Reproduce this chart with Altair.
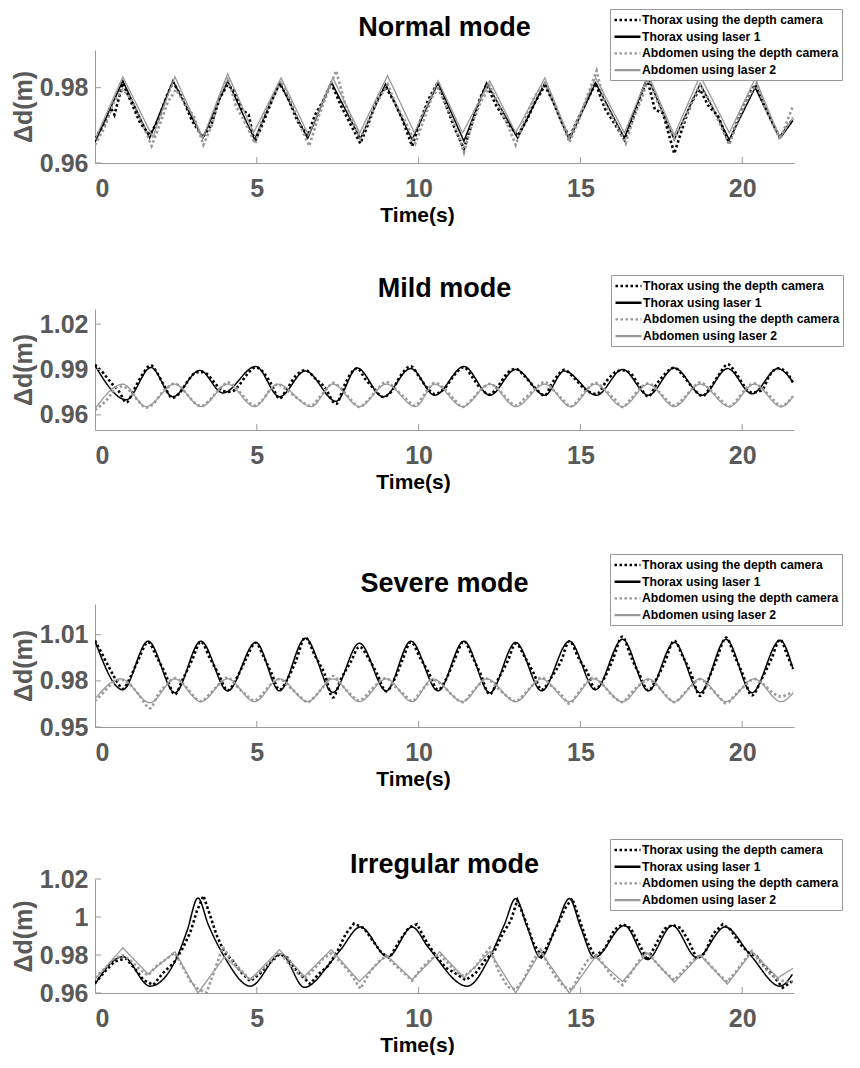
import altair as alt
import pandas as pd

FONT = "Liberation Sans"

SERIES = ["Thorax using the depth camera", "Thorax using laser 1",
          "Abdomen using the depth camera", "Abdomen using laser 2"]
COLORS = ["#000000", "#000000", "#999999", "#999999"]
DASHES = [[2.5, 2.5], [1, 0], [2.5, 2.5], [1, 0]]
WIDTHS = [2.6, 1.5, 2.6, 1.3]

TITLES = ["Normal mode", "Mild mode", "Severe mode", "Irregular mode"]
X_TICKS = [0, 5, 10, 15, 20]
X_DOMAIN = [0, 21.6]
Y_DOMAINS = [[0.96, 0.99], [0.95, 1.03], [0.95, 1.03], [0.96, 1.02]]
Y_TICKS = [[0.96, 0.98], [0.96, 0.99, 1.02], [0.95, 0.98, 1.01], [0.96, 0.98, 1.0, 1.02]]

# ---------------- Normal mode ----------------
NORMAL_THORAX_CAM = [(0.0, 0.9665), (0.3, 0.9705), (0.5, 0.9745), (0.6, 0.9728), (0.86, 0.9812), (1.1, 0.9765), (1.4, 0.9705), (1.69, 0.9675), (1.95, 0.9712), (2.2, 0.9775), (2.41, 0.9815), (2.7, 0.9772), (3.0, 0.9712), (3.33, 0.9668), (3.6, 0.9702), (3.85, 0.9772), (4.1, 0.9808), (4.3, 0.9792), (4.55, 0.9742), (4.75, 0.9728), (4.93, 0.9655), (5.2, 0.9708), (5.45, 0.9762), (5.7, 0.9812), (5.95, 0.9775), (6.25, 0.9712), (6.57, 0.9672), (6.8, 0.9728), (7.05, 0.9765), (7.3, 0.9812), (7.6, 0.9752), (7.9, 0.9702), (8.2, 0.9652), (8.45, 0.9705), (8.7, 0.9765), (8.98, 0.9802), (9.25, 0.9762), (9.5, 0.9715), (9.8, 0.9645), (10.05, 0.9712), (10.3, 0.9768), (10.6, 0.9815), (10.85, 0.9752), (11.1, 0.9695), (11.4, 0.9638), (11.65, 0.9705), (11.9, 0.9772), (12.1, 0.9808), (12.4, 0.9752), (12.7, 0.9712), (13.06, 0.9672), (13.35, 0.9715), (13.6, 0.9762), (13.9, 0.9805), (14.15, 0.9765), (14.4, 0.9712), (14.66, 0.9668), (14.95, 0.9722), (15.2, 0.9765), (15.47, 0.9812), (15.75, 0.9745), (16.05, 0.9705), (16.36, 0.9662), (16.6, 0.9712), (16.85, 0.9775), (17.07, 0.9822), (17.3, 0.9742), (17.55, 0.9732), (17.9, 0.9625), (18.2, 0.9705), (18.45, 0.9765), (18.7, 0.9795), (18.95, 0.9752), (19.25, 0.9725), (19.6, 0.9652), (19.85, 0.9712), (20.15, 0.9772), (20.4, 0.9808), (20.65, 0.9758), (20.9, 0.9712), (21.17, 0.9668), (21.57, 0.9718)]
NORMAL_THORAX_LASER = [(0, 0.9655), (0.86, 0.9818), (1.69, 0.9666), (2.41, 0.9818), (3.33, 0.9666), (4.1, 0.9818), (4.93, 0.9662), (5.7, 0.9815), (6.57, 0.9665), (7.3, 0.9815), (8.2, 0.9665), (8.98, 0.981), (9.8, 0.9662), (10.6, 0.9813), (11.4, 0.9658), (12.1, 0.9813), (13.06, 0.9666), (13.9, 0.9813), (14.66, 0.9662), (15.47, 0.9813), (16.36, 0.9666), (17.07, 0.983), (17.9, 0.9662), (18.7, 0.981), (19.6, 0.9662), (20.4, 0.980), (21.17, 0.9666), (21.57, 0.9713)]
NORMAL_ABD_CAM = [(0.0, 0.9648), (0.3, 0.9695), (0.6, 0.9765), (0.86, 0.9795), (1.1, 0.9772), (1.4, 0.9718), (1.75, 0.9645), (2.0, 0.9702), (2.25, 0.9762), (2.5, 0.9795), (2.75, 0.9762), (3.05, 0.9725), (3.35, 0.9648), (3.6, 0.9698), (3.85, 0.9778), (4.1, 0.9828), (4.35, 0.9752), (4.65, 0.9705), (4.95, 0.9652), (5.2, 0.9725), (5.5, 0.9772), (5.75, 0.9818), (6.0, 0.9772), (6.3, 0.9708), (6.62, 0.9645), (6.9, 0.9722), (7.15, 0.9778), (7.45, 0.9845), (7.7, 0.9765), (7.95, 0.9712), (8.2, 0.9665), (8.5, 0.9722), (8.75, 0.9768), (9.05, 0.9808), (9.3, 0.9755), (9.6, 0.9708), (9.9, 0.9652), (10.15, 0.9712), (10.4, 0.9772), (10.6, 0.9798), (10.85, 0.9752), (11.1, 0.9705), (11.4, 0.9628), (11.65, 0.9705), (11.9, 0.9758), (12.2, 0.9805), (12.45, 0.9758), (12.7, 0.9712), (13.0, 0.9648), (13.3, 0.9722), (13.6, 0.9778), (13.9, 0.9812), (14.15, 0.9765), (14.4, 0.9712), (14.66, 0.9655), (14.95, 0.9712), (15.2, 0.9775), (15.5, 0.9845), (15.75, 0.9758), (16.05, 0.9712), (16.4, 0.9652), (16.65, 0.9722), (16.9, 0.9772), (17.1, 0.9828), (17.35, 0.9768), (17.6, 0.9722), (17.9, 0.9665), (18.2, 0.9712), (18.45, 0.9765), (18.7, 0.9808), (18.95, 0.9772), (19.25, 0.9715), (19.6, 0.9648), (19.85, 0.9712), (20.15, 0.9768), (20.45, 0.9812), (20.7, 0.9748), (20.95, 0.9702), (21.17, 0.9662), (21.57, 0.9752)]
NORMAL_ABD_LASER = [(0, 0.9662), (0.86, 0.9829), (1.79, 0.9668), (2.0, 0.9722), (2.47, 0.9829), (3.33, 0.9666), (4.1, 0.9837), (4.9, 0.968), (5.75, 0.9826), (6.6, 0.9674), (7.35, 0.9826), (8.18, 0.968), (9.04, 0.9832), (9.87, 0.968), (10.6, 0.9818), (11.36, 0.968), (12.2, 0.9818), (13.0, 0.968), (13.9, 0.9826), (14.66, 0.9666), (15.47, 0.9826), (16.36, 0.968), (17.1, 0.9834), (17.9, 0.9674), (18.7, 0.9832), (19.6, 0.968), (20.4, 0.9824), (21.17, 0.9666), (21.57, 0.9721)]

# ---------------- Mild mode ----------------
MILD_THORAX_CAM = [(0.0, 0.9932), (0.25, 0.9878), (0.5, 0.9812), (0.75, 0.9752), (0.97, 0.9682), (1.2, 0.9765), (1.45, 0.9862), (1.73, 0.9928), (1.9, 0.9885), (2.1, 0.9808), (2.4, 0.9712), (2.6, 0.9742), (2.85, 0.9818), (3.05, 0.9872), (3.24, 0.9885), (3.45, 0.9872), (3.7, 0.9812), (3.95, 0.9758), (4.2, 0.9752), (4.45, 0.9795), (4.7, 0.9868), (4.97, 0.9915), (5.2, 0.9882), (5.45, 0.9802), (5.7, 0.9708), (5.95, 0.9778), (6.2, 0.9858), (6.5, 0.9895), (6.8, 0.9842), (7.1, 0.9782), (7.45, 0.9672), (7.7, 0.9792), (7.9, 0.9872), (8.1, 0.9908), (8.35, 0.9838), (8.6, 0.9778), (8.9, 0.9718), (9.15, 0.9752), (9.45, 0.9862), (9.76, 0.9922), (10.0, 0.9858), (10.25, 0.9782), (10.5, 0.9738), (10.8, 0.9775), (11.1, 0.9862), (11.4, 0.9915), (11.65, 0.9852), (11.9, 0.9778), (12.2, 0.9735), (12.45, 0.9788), (12.75, 0.9878), (13.0, 0.9905), (13.25, 0.9862), (13.6, 0.9778), (13.9, 0.9728), (14.1, 0.9802), (14.3, 0.9862), (14.5, 0.9898), (14.8, 0.9845), (15.15, 0.9768), (15.5, 0.9738), (15.8, 0.9822), (16.05, 0.9878), (16.3, 0.9895), (16.55, 0.9875), (16.8, 0.9798), (17.1, 0.9722), (17.35, 0.9802), (17.6, 0.9868), (17.9, 0.9912), (18.15, 0.9865), (18.45, 0.9785), (18.77, 0.9725), (19.0, 0.9775), (19.3, 0.9872), (19.55, 0.9935), (19.8, 0.9878), (20.05, 0.9795), (20.3, 0.9748), (20.6, 0.9762), (20.85, 0.9862), (21.1, 0.9908), (21.35, 0.9885), (21.57, 0.9812)]
MILD_THORAX_LASER = [(0, 0.9926), (0.97, 0.970), (1.73, 0.9913), (2.4, 0.972), (3.24, 0.9894), (3.95, 0.9745), (4.97, 0.992), (5.7, 0.972), (6.5, 0.989), (7.45, 0.969), (8.1, 0.991), (8.9, 0.972), (9.76, 0.9906), (10.5, 0.973), (11.4, 0.992), (12.2, 0.973), (13.0, 0.990), (13.9, 0.973), (14.5, 0.989), (15.5, 0.973), (16.3, 0.990), (17.1, 0.973), (17.9, 0.991), (18.77, 0.973), (19.55, 0.9906), (20.3, 0.974), (21.1, 0.9906), (21.57, 0.9816)]
MILD_ABD_CAM = [(0.0, 0.9632), (0.2, 0.9665), (0.45, 0.9722), (0.65, 0.9782), (0.86, 0.9788), (1.05, 0.9762), (1.3, 0.9702), (1.58, 0.9648), (1.8, 0.9672), (2.05, 0.9742), (2.25, 0.9782), (2.46, 0.9808), (2.65, 0.9782), (2.9, 0.9722), (3.1, 0.9675), (3.28, 0.9658), (3.5, 0.9688), (3.75, 0.9748), (3.95, 0.9792), (4.1, 0.9815), (4.35, 0.9782), (4.6, 0.9718), (4.93, 0.9662), (5.15, 0.9692), (5.4, 0.9762), (5.65, 0.9802), (5.95, 0.9762), (6.3, 0.9702), (6.68, 0.9658), (6.9, 0.9708), (7.15, 0.9768), (7.35, 0.9812), (7.6, 0.9775), (7.9, 0.9702), (8.17, 0.9652), (8.4, 0.9688), (8.7, 0.9762), (9.0, 0.9818), (9.3, 0.9768), (9.6, 0.9708), (9.9, 0.9662), (10.1, 0.9712), (10.3, 0.9772), (10.5, 0.9812), (10.8, 0.9772), (11.1, 0.9702), (11.36, 0.9652), (11.65, 0.9702), (11.95, 0.9772), (12.2, 0.9805), (12.5, 0.9762), (12.75, 0.9702), (13.0, 0.9662), (13.3, 0.9712), (13.6, 0.9772), (13.9, 0.9818), (14.15, 0.9768), (14.45, 0.9702), (14.7, 0.9655), (14.95, 0.9702), (15.2, 0.9768), (15.46, 0.9812), (15.75, 0.9768), (16.05, 0.9705), (16.3, 0.9652), (16.55, 0.9702), (16.85, 0.9778), (17.1, 0.9808), (17.4, 0.9758), (17.65, 0.9702), (17.9, 0.9662), (18.2, 0.9712), (18.45, 0.9772), (18.7, 0.9815), (19.0, 0.9768), (19.3, 0.9708), (19.6, 0.9655), (19.85, 0.9702), (20.1, 0.9772), (20.37, 0.9808), (20.65, 0.9768), (20.95, 0.9702), (21.2, 0.9658), (21.57, 0.9725)]
MILD_ABD_LASER = [(0, 0.964), (0.86, 0.9803), (1.58, 0.9655), (2.46, 0.9803), (3.28, 0.9655), (4.1, 0.9803), (4.93, 0.9655), (5.65, 0.9803), (6.68, 0.9655), (7.35, 0.9803), (8.17, 0.9655), (9.0, 0.9803), (9.9, 0.9655), (10.5, 0.9803), (11.36, 0.9655), (12.2, 0.9803), (13.0, 0.9655), (13.9, 0.9803), (14.7, 0.9655), (15.46, 0.9803), (16.3, 0.9655), (17.1, 0.9803), (17.9, 0.9655), (18.7, 0.9803), (19.6, 0.9655), (20.37, 0.9803), (21.2, 0.9655), (21.57, 0.972)]

# ---------------- Severe mode ----------------
SEVERE_THORAX_CAM = [(0.0, 1.0062), (0.25, 0.9962), (0.5, 0.9862), (0.7, 0.9788), (0.86, 0.9748), (1.1, 0.9828), (1.35, 0.9942), (1.64, 1.0052), (1.9, 0.9958), (2.15, 0.9858), (2.47, 0.9712), (2.7, 0.9805), (3.0, 0.9935), (3.27, 1.0055), (3.55, 0.9948), (3.8, 0.9852), (4.1, 0.9738), (4.35, 0.9808), (4.65, 0.9935), (4.97, 1.0048), (5.2, 0.9962), (5.45, 0.9852), (5.7, 0.9742), (5.95, 0.9812), (6.2, 0.9925), (6.5, 1.0082), (6.8, 0.9962), (7.1, 0.9842), (7.35, 0.9692), (7.6, 0.9812), (7.9, 0.9922), (8.17, 1.0022), (8.45, 0.9948), (8.7, 0.9852), (9.0, 0.9732), (9.25, 0.9808), (9.5, 0.9935), (9.76, 1.0052), (10.05, 0.9948), (10.3, 0.9858), (10.6, 0.9742), (10.85, 0.9812), (11.1, 0.9932), (11.4, 1.0058), (11.65, 0.9962), (11.9, 0.9852), (12.2, 0.9712), (12.45, 0.9808), (12.75, 0.9928), (13.0, 1.0042), (13.3, 0.9948), (13.55, 0.9852), (13.8, 0.9742), (14.1, 0.9822), (14.4, 0.9928), (14.66, 1.0058), (14.95, 0.9945), (15.2, 0.9862), (15.46, 0.9748), (15.75, 0.9822), (16.0, 0.9938), (16.3, 1.0088), (16.55, 0.9962), (16.8, 0.9852), (17.1, 0.9738), (17.35, 0.9812), (17.6, 0.9918), (17.9, 1.0062), (18.15, 0.9965), (18.4, 0.9858), (18.7, 0.9702), (18.95, 0.9808), (19.2, 0.9935), (19.5, 1.0082), (19.75, 0.9968), (20.0, 0.9852), (20.3, 0.9705), (20.6, 0.9812), (20.9, 0.9942), (21.17, 1.0068), (21.4, 0.9962), (21.57, 0.9878)]
SEVERE_THORAX_LASER = [(0, 1.0058), (0.86, 0.9742), (1.64, 1.0058), (2.47, 0.9723), (3.27, 1.0058), (4.1, 0.9735), (4.97, 1.005), (5.7, 0.9735), (6.5, 1.0077), (7.35, 0.9725), (8.17, 1.0045), (9.0, 0.9735), (9.76, 1.0058), (10.6, 0.9735), (11.4, 1.0058), (12.2, 0.9723), (13.0, 1.005), (13.8, 0.9735), (14.66, 1.0058), (15.46, 0.9742), (16.3, 1.007), (17.1, 0.9735), (17.9, 1.005), (18.7, 0.9723), (19.5, 1.007), (20.3, 0.9723), (21.17, 1.0064), (21.57, 0.9877)]
SEVERE_ABD_CAM = [(0.0, 0.9668), (0.25, 0.9722), (0.5, 0.9778), (0.8, 0.9808), (1.05, 0.9782), (1.35, 0.9712), (1.7, 0.9622), (1.95, 0.9712), (2.2, 0.9772), (2.47, 0.9818), (2.75, 0.9775), (3.0, 0.9712), (3.27, 0.9668), (3.55, 0.9715), (3.8, 0.9772), (4.1, 0.9822), (4.35, 0.9772), (4.65, 0.9712), (4.93, 0.9672), (5.2, 0.9722), (5.45, 0.9782), (5.7, 0.9812), (6.0, 0.9762), (6.3, 0.9705), (6.57, 0.9662), (6.85, 0.9712), (7.1, 0.9772), (7.35, 0.9832), (7.65, 0.9768), (7.9, 0.9712), (8.17, 0.9672), (8.45, 0.9722), (8.7, 0.9778), (9.0, 0.9818), (9.25, 0.9768), (9.55, 0.9712), (9.8, 0.9668), (10.05, 0.9725), (10.25, 0.9775), (10.43, 0.9808), (10.75, 0.9768), (11.05, 0.9705), (11.36, 0.9662), (11.6, 0.9712), (11.85, 0.9772), (12.1, 0.9815), (12.4, 0.9762), (12.7, 0.9705), (13.0, 0.9668), (13.3, 0.9722), (13.55, 0.9778), (13.8, 0.9822), (14.1, 0.9768), (14.4, 0.9712), (14.66, 0.9652), (14.9, 0.9712), (15.15, 0.9778), (15.4, 0.9822), (15.7, 0.9772), (16.0, 0.9702), (16.3, 0.9662), (16.55, 0.9718), (16.8, 0.9768), (17.1, 0.9808), (17.4, 0.9762), (17.65, 0.9705), (17.9, 0.9662), (18.2, 0.9718), (18.45, 0.9772), (18.7, 0.9812), (18.95, 0.9768), (19.25, 0.9705), (19.5, 0.9655), (19.8, 0.9712), (20.1, 0.9772), (20.37, 0.9812), (20.65, 0.9778), (20.95, 0.9722), (21.2, 0.9698), (21.4, 0.9712), (21.57, 0.9728)]
SEVERE_ABD_LASER = [(0, 0.9684), (0.8, 0.9813), (1.7, 0.9658), (2.47, 0.9813), (3.27, 0.9665), (4.1, 0.9813), (4.93, 0.9665), (5.7, 0.9813), (6.57, 0.9665), (7.35, 0.9813), (8.17, 0.9665), (9.0, 0.9813), (9.8, 0.9665), (10.43, 0.9813), (11.36, 0.9665), (12.1, 0.9813), (13.0, 0.9665), (13.8, 0.9813), (14.66, 0.9665), (15.4, 0.9813), (16.3, 0.9665), (17.1, 0.9813), (17.9, 0.9665), (18.7, 0.9813), (19.5, 0.9665), (20.37, 0.9813), (21.2, 0.9665), (21.57, 0.972)]

# ---------------- Irregular mode ----------------
IRREG_THORAX_CAM = [(0.0, 0.9652), (0.3, 0.9712), (0.6, 0.9765), (0.95, 0.9782), (1.2, 0.9735), (1.5, 0.9668), (1.8, 0.9642), (2.1, 0.9705), (2.45, 0.9762), (2.7, 0.9832), (2.95, 0.9922), (3.15, 1.0032), (3.35, 1.0112), (3.55, 1.0012), (3.75, 0.9908), (4.0, 0.9812), (4.25, 0.9772), (4.5, 0.9712), (4.8, 0.9662), (5.1, 0.9702), (5.4, 0.9758), (5.7, 0.9805), (5.95, 0.9785), (6.15, 0.9732), (6.4, 0.9688), (6.65, 0.9648), (6.9, 0.9698), (7.2, 0.9742), (7.5, 0.9822), (7.75, 0.9912), (8.0, 0.9965), (8.3, 0.9942), (8.6, 0.9872), (8.85, 0.9812), (9.1, 0.9785), (9.4, 0.9872), (9.7, 0.9945), (9.95, 0.9962), (10.25, 0.9868), (10.55, 0.9792), (10.85, 0.9732), (11.15, 0.9702), (11.45, 0.9668), (11.75, 0.9702), (12.05, 0.9772), (12.35, 0.9822), (12.6, 0.9912), (12.85, 0.9982), (13.05, 1.0088), (13.3, 0.9982), (13.55, 0.9862), (13.8, 0.9792), (14.05, 0.9872), (14.3, 0.9962), (14.55, 1.0052), (14.75, 1.0098), (15.0, 0.9972), (15.2, 0.9872), (15.45, 0.9792), (15.75, 0.9832), (16.05, 0.9932), (16.3, 0.9962), (16.55, 0.9942), (16.8, 0.9862), (17.07, 0.9772), (17.35, 0.9862), (17.6, 0.9938), (17.85, 0.9958), (18.1, 0.9942), (18.35, 0.9872), (18.6, 0.9778), (18.85, 0.9812), (19.1, 0.9912), (19.4, 0.9962), (19.65, 0.9932), (19.9, 0.9862), (20.2, 0.9812), (20.45, 0.9792), (20.75, 0.9728), (21.0, 0.9682), (21.25, 0.9628), (21.55, 0.9662)]
IRREG_THORAX_LASER = [(0, 0.9647), (0.86, 0.9791), (1.7, 0.9636), (2.47, 0.9766), (2.85, 0.993), (3.18, 1.0100), (3.5, 0.996), (4.0, 0.9790), (4.8, 0.9636), (5.75, 0.9805), (6.47, 0.9630), (7.3, 0.9766), (7.6, 0.9830), (8.2, 0.9947), (9.05, 0.9790), (9.8, 0.9947), (10.3, 0.9840), (11.5, 0.9636), (12.2, 0.9790), (12.65, 0.996), (13.0, 1.0097), (13.35, 0.995), (13.77, 0.9786), (14.25, 0.995), (14.66, 1.0097), (15.0, 0.995), (15.43, 0.9786), (16.36, 0.9955), (17.07, 0.9776), (17.84, 0.9955), (18.6, 0.9786), (19.47, 0.9947), (20.25, 0.9800), (21.17, 0.9636), (21.55, 0.9698)]
IRREG_ABD_CAM = [(0.0, 0.9682), (0.3, 0.9728), (0.6, 0.9782), (0.86, 0.9798), (1.1, 0.9772), (1.4, 0.9722), (1.64, 0.9692), (1.9, 0.9742), (2.2, 0.9778), (2.45, 0.9812), (2.7, 0.9742), (2.95, 0.9662), (3.2, 0.9618), (3.45, 0.9602), (3.7, 0.9722), (3.95, 0.9842), (4.2, 0.9778), (4.5, 0.9722), (4.8, 0.9668), (5.1, 0.9712), (5.4, 0.9758), (5.7, 0.9815), (5.95, 0.9762), (6.2, 0.9712), (6.5, 0.9678), (6.8, 0.9732), (7.05, 0.9782), (7.3, 0.9808), (7.6, 0.9762), (7.9, 0.9702), (8.2, 0.9622), (8.5, 0.9712), (8.75, 0.9762), (9.0, 0.9795), (9.3, 0.9742), (9.55, 0.9705), (9.8, 0.9665), (10.05, 0.9722), (10.35, 0.9775), (10.65, 0.9805), (10.9, 0.9758), (11.15, 0.9712), (11.4, 0.9688), (11.7, 0.9728), (11.95, 0.9782), (12.2, 0.9838), (12.45, 0.9722), (12.75, 0.9632), (13.0, 0.9618), (13.25, 0.9672), (13.5, 0.9762), (13.77, 0.9828), (14.0, 0.9752), (14.25, 0.9682), (14.5, 0.9632), (14.75, 0.9618), (15.0, 0.9712), (15.25, 0.9778), (15.5, 0.9798), (15.75, 0.9742), (16.0, 0.9682), (16.3, 0.9642), (16.55, 0.9702), (16.8, 0.9768), (17.07, 0.9818), (17.35, 0.9758), (17.6, 0.9712), (17.9, 0.9668), (18.2, 0.9722), (18.45, 0.9768), (18.7, 0.9802), (18.95, 0.9758), (19.25, 0.9702), (19.54, 0.9658), (19.8, 0.9712), (20.05, 0.9768), (20.3, 0.9822), (20.55, 0.9762), (20.85, 0.9702), (21.1, 0.9672), (21.35, 0.9658), (21.57, 0.9662)]
IRREG_ABD_LASER = [(0, 0.9672), (0.86, 0.9838), (1.64, 0.970), (2.47, 0.9817), (3.18, 0.960), (4.0, 0.979), (4.8, 0.967), (5.7, 0.9828), (6.47, 0.9688), (7.3, 0.9828), (8.17, 0.966), (9.0, 0.980), (9.8, 0.967), (10.65, 0.9817), (11.4, 0.968), (12.2, 0.9817), (13.0, 0.960), (13.77, 0.9817), (14.66, 0.960), (15.46, 0.979), (16.3, 0.966), (17.07, 0.981), (17.9, 0.9657), (18.7, 0.980), (19.54, 0.9647), (20.3, 0.9817), (21.1, 0.968), (21.57, 0.973)]

PANEL_DATA = [
    [NORMAL_THORAX_CAM, NORMAL_THORAX_LASER, NORMAL_ABD_CAM, NORMAL_ABD_LASER],
    [MILD_THORAX_CAM, MILD_THORAX_LASER, MILD_ABD_CAM, MILD_ABD_LASER],
    [SEVERE_THORAX_CAM, SEVERE_THORAX_LASER, SEVERE_ABD_CAM, SEVERE_ABD_LASER],
    [IRREG_THORAX_CAM, IRREG_THORAX_LASER, IRREG_ABD_CAM, IRREG_ABD_LASER],
]
INTERPS = [
    ["linear", "linear", "linear", "linear"],
    ["monotone", "monotone", "monotone", "monotone"],
    ["monotone", "monotone", "monotone", "monotone"],
    ["linear", "monotone", "linear", "linear"],
]

PW = 699
PH = [113, 121, 123, 114]
LEG_XY = [(515, -41), (516, -34), (515, -50), (515, -40)]
TITLE_Y = [-14, -12, -12, -6]
XTITLE_X = [322, 318, 318, 322]
AXIS_GRAY = "#9a9a9a"


def panel(i):
    xs = alt.Scale(domain=X_DOMAIN, nice=False, zero=False)
    ys = alt.Scale(domain=Y_DOMAINS[i], nice=False, zero=False)
    xaxis = alt.Axis(values=X_TICKS, title="Time(s)", titleX=XTITLE_X[i])
    yaxis = alt.Axis(values=Y_TICKS[i], title="Δd(m)", format=".2~f")
    leg = alt.Legend(orient="none", legendX=LEG_XY[i][0], legendY=LEG_XY[i][1], title=None)
    layers = []
    for k, name in enumerate(SERIES):
        df = pd.DataFrame(PANEL_DATA[i][k], columns=["t", "y"])
        df["series"] = name
        layers.append(
            alt.Chart(df).mark_line(strokeWidth=WIDTHS[k], interpolate=INTERPS[i][k], clip=True).encode(
                x=alt.X("t:Q", scale=xs, axis=xaxis),
                y=alt.Y("y:Q", scale=ys, axis=yaxis),
                color=alt.Color("series:N", scale=alt.Scale(domain=SERIES, range=COLORS), legend=leg),
                strokeDash=alt.StrokeDash("series:N", scale=alt.Scale(domain=SERIES, range=DASHES), legend=leg),
            )
        )
    xt = pd.DataFrame({"t": X_TICKS[1:]})
    layers.append(alt.Chart(xt).mark_rule(color=AXIS_GRAY, strokeWidth=1).encode(
        x=alt.X("t:Q", scale=xs, axis=xaxis), y=alt.value(PH[i]), y2=alt.value(PH[i] - 6)))
    yt = pd.DataFrame({"y": Y_TICKS[i]})
    layers.append(alt.Chart(yt).mark_rule(color=AXIS_GRAY, strokeWidth=1).encode(
        y=alt.Y("y:Q", scale=ys, axis=yaxis), x=alt.value(0), x2=alt.value(6)))
    tt = pd.DataFrame({"title": [TITLES[i]]})
    layers.append(alt.Chart(tt).mark_text(font=FONT, fontSize=27, fontWeight="bold", color="black",
                                          align="center", baseline="alphabetic").encode(
        text="title:N", x=alt.value(PW / 2), y=alt.value(TITLE_Y[i])))
    return alt.layer(*layers).properties(width=PW, height=PH[i])


p1, p2, p3, p4 = [panel(i) for i in range(4)]
inner = alt.vconcat(p2, p3, spacing=61).resolve_scale(
    x="independent", y="independent", color="independent", strokeDash="independent")
chart = alt.vconcat(p1, inner, p4, spacing=49).resolve_scale(
    x="independent", y="independent", color="independent", strokeDash="independent"
).properties(
    padding={"left": 3, "right": 0, "top": 0, "bottom": 0}
).configure_view(stroke=None).configure_axis(
    labelFont=FONT, labelFontSize=25, labelFontWeight="bold", labelColor="#595959",
    domainColor=AXIS_GRAY, domainWidth=1, ticks=False, tickSize=0, grid=False,
    titleFont=FONT, titleFontWeight="bold", labelOverlap=False
).configure_axisX(
    labelPadding=13, titlePadding=3, titleFontSize=21, titleColor="black"
).configure_axisY(
    labelPadding=7, titlePadding=3, titleFontSize=25, titleColor="#595959"
).configure_legend(
    padding=3, rowPadding=1.7, symbolType="M-1,0H3", symbolSize=169, symbolStrokeWidth=2.4,
    labelFont=FONT, labelFontSize=12.2, labelFontWeight="bold", labelColor="black",
    labelLimit=400, strokeColor="#999999", fillColor="white", labelOffset=13, cornerRadius=0
)

chart.save("out.html", embed_options={"renderer": "svg", "actions": False})
